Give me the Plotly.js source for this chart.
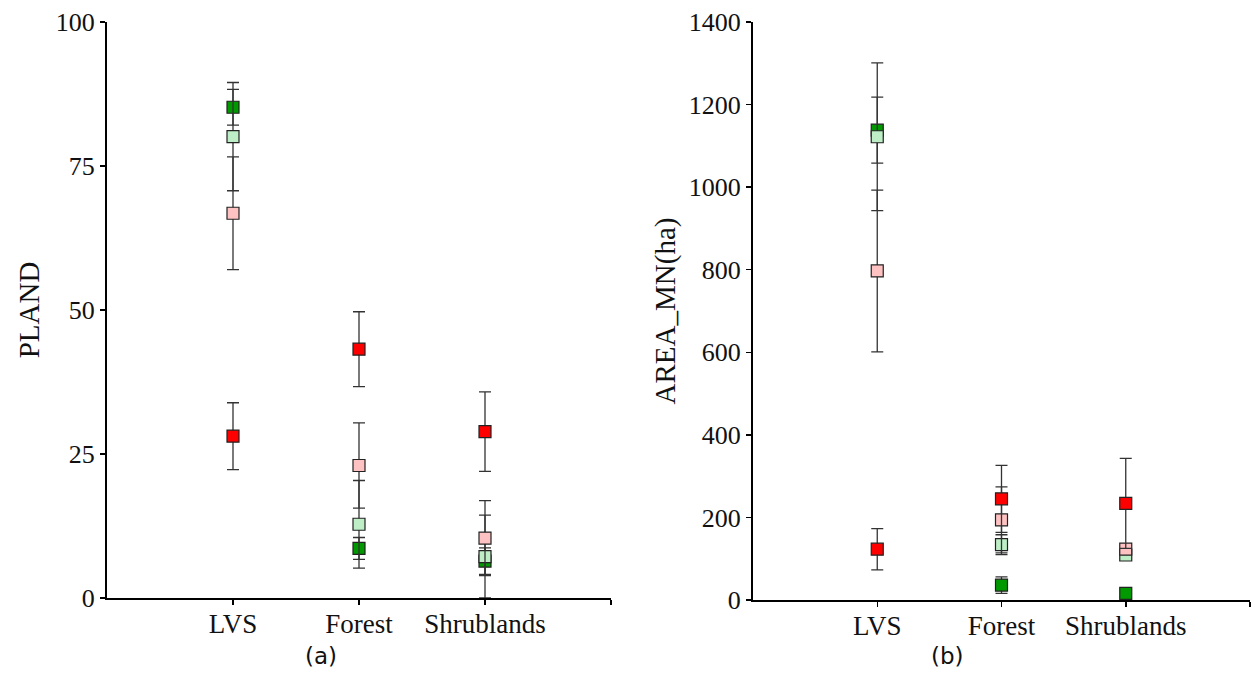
<!DOCTYPE html>
<html>
<head>
<meta charset="utf-8">
<script src="https://cdn.plot.ly/plotly-3.0.1.min.js"></script>
<style>html,body{margin:0;padding:0;background:#fff;}#chart{width:1254px;height:675px;}</style>
</head>
<body>
<div id="chart"></div>
<script>
// Categories (x positions 0,1,2)
const categories = ['LVS', 'Forest', 'Shrublands'];
const catIndex = [0, 1, 2];
const tickLabels = ['LVS', 'Forest', 'Shrublands', ''];

// Series names (order = drawing order)
const seriesNames = ['Dark green', 'Light green', 'Pink', 'Red'];
const seriesColors = ['#009900', '#bdeec6', '#ffc2c2', '#ff0000'];

// Panel (a): PLAND
const plandDarkGreen = [85.2, 8.6, 6.4];
const plandDarkGreenErr = [3.1, 1.9, 2.3];
const plandLightGreen = [80.1, 12.8, 7.2];
const plandLightGreenErr = [9.4, 7.6, 7.2];
const plandPink = [66.8, 23.0, 10.4];
const plandPinkErr = [9.8, 7.4, 6.5];
const plandRed = [28.1, 43.2, 28.9];
const plandRedErr = [5.8, 6.5, 6.9];

// Panel (b): AREA_MN (ha)
const areaDarkGreen = [1138, 36, 16];
const areaDarkGreenErr = [80, 20, 10];
const areaLightGreen = [1122, 134, 109];
const areaLightGreenErr = [179, 24, 8];
const areaPink = [797, 194, 123];
const areaPinkErr = [196, 80, 8];
const areaRed = [123, 245, 234];
const areaRedErr = [50, 81, 109];

const plandSeries = [
  [plandDarkGreen, plandDarkGreenErr],
  [plandLightGreen, plandLightGreenErr],
  [plandPink, plandPinkErr],
  [plandRed, plandRedErr]
];
const areaSeries = [
  [areaDarkGreen, areaDarkGreenErr],
  [areaLightGreen, areaLightGreenErr],
  [areaPink, areaPinkErr],
  [areaRed, areaRedErr]
];

function makeTrace(vals, errs, i, xa, ya) {
  return {
    type: 'scatter', mode: 'markers',
    x: catIndex, y: vals, xaxis: xa, yaxis: ya,
    name: seriesNames[i], showlegend: false, cliponaxis: false,
    marker: {symbol: 'square', size: 12, color: seriesColors[i],
             line: {color: '#222', width: 1.2}},
    error_y: {type: 'data', array: errs, visible: true,
              color: '#333', thickness: 1.3, width: 6}
  };
}

const traces = [];
plandSeries.forEach((s, i) => traces.push(makeTrace(s[0], s[1], i, 'x', 'y')));
areaSeries.forEach((s, i) => traces.push(makeTrace(s[0], s[1], i, 'x2', 'y2')));

const serif = 'Liberation Serif';
const W = 1254, H = 675;

function xAxis(d0, d1, anchor) {
  return {
    domain: [d0 / W, d1 / W], anchor: anchor,
    range: [-1, 3], tickvals: [0, 1, 2, 3], ticktext: tickLabels,
    showgrid: false, zeroline: false, showline: true,
    linecolor: '#000', linewidth: 2,
    ticks: 'outside', ticklen: 5, tickwidth: 1.5, tickcolor: '#000',
    ticklabelstandoff: -4,
    tickfont: {family: serif, size: 27, color: '#111'}
  };
}
function yAxis(top, bottom, anchor, range, dtick, title, standoff) {
  return {
    domain: [1 - bottom / H, 1 - top / H], anchor: anchor,
    range: range, dtick: dtick, tick0: 0,
    showgrid: false, zeroline: false, showline: true,
    linecolor: '#000', linewidth: 2,
    ticks: 'outside', ticklen: 5, tickwidth: 1.5, tickcolor: '#000',
    tickfont: {family: serif, size: 26, color: '#111'},
    title: {text: title, font: {family: serif, size: 29, color: '#111'}, standoff: standoff}
  };
}

const layout = {
  width: W, height: H,
  margin: {l: 0, r: 0, t: 0, b: 0},
  paper_bgcolor: '#fff', plot_bgcolor: '#fff',
  xaxis: xAxis(107, 611, 'y'),
  yaxis: yAxis(22, 598, 'x', [0, 100], 25, 'PLAND', 8),
  xaxis2: xAxis(753, 1250, 'y2'),
  yaxis2: yAxis(22, 600, 'x2', [0, 1400], 200, 'AREA_MN(ha)', 5),
  annotations: [
    {text: '(a)', xref: 'paper', yref: 'paper', x: 321 / W, y: 1 - 656 / H,
     showarrow: false, xanchor: 'center', yanchor: 'middle',
     font: {family: 'DejaVu Sans', size: 23, color: '#111'}},
    {text: '(b)', xref: 'paper', yref: 'paper', x: 947 / W, y: 1 - 656 / H,
     showarrow: false, xanchor: 'center', yanchor: 'middle',
     font: {family: 'DejaVu Sans', size: 23, color: '#111'}}
  ]
};

Plotly.newPlot('chart', traces, layout, {displayModeBar: false, staticPlot: true});
</script>
</body>
</html>
